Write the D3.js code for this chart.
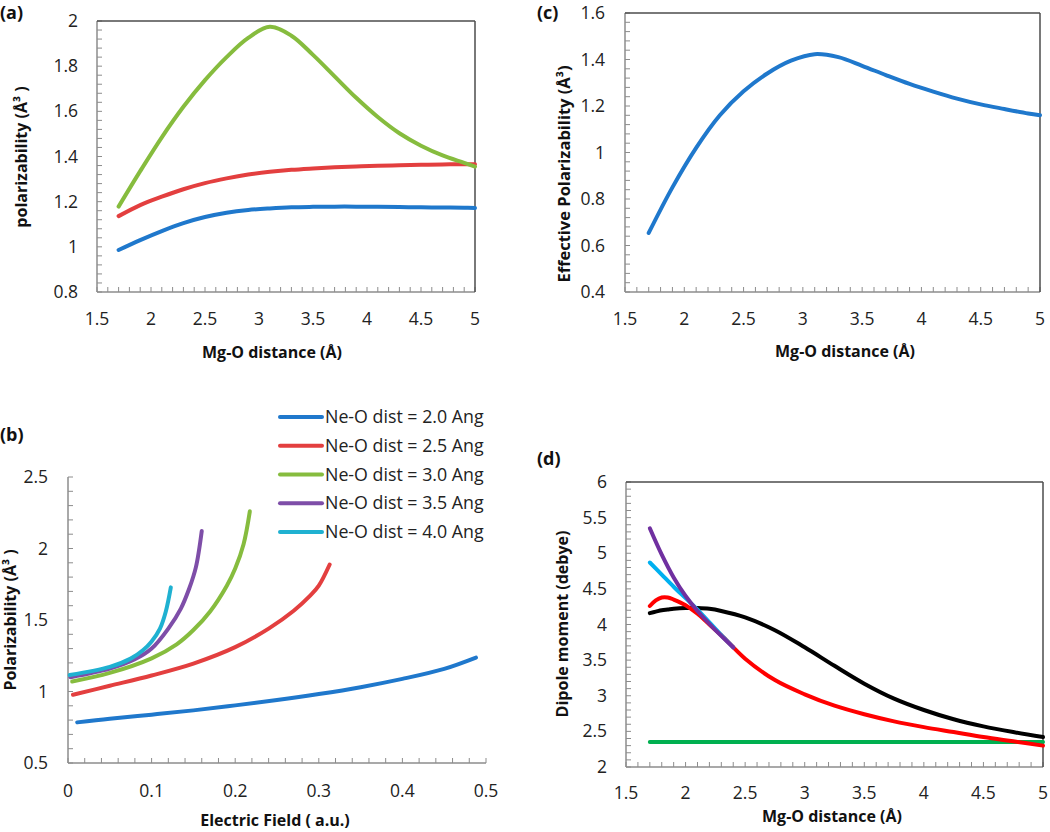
<!DOCTYPE html>
<html>
<head>
<meta charset="utf-8">
<script src="https://cdn.jsdelivr.net/npm/d3@7"></script>
<style>
  html, body { margin: 0; padding: 0; background: #fff; }
  svg { display: block; font-family: "Open Sans", "Noto Sans", sans-serif; }
</style>
</head>
<body>
<svg id="chart" width="1050" height="832"></svg>
<script>
// ---------- Panel (a): polarizability vs Mg-O distance ----------
const aX     = [1.7, 1.9, 2.1, 2.3, 2.5, 2.7, 2.9, 3.1, 3.3, 3.5, 3.7, 3.9, 4.1, 4.3, 4.5, 4.7, 4.9, 5.0];
const aGreen = [1.178, 1.335, 1.485, 1.62, 1.738, 1.84, 1.925, 1.974, 1.935, 1.85, 1.755, 1.66, 1.575, 1.503, 1.448, 1.405, 1.372, 1.355];
const aRed   = [1.136, 1.185, 1.222, 1.255, 1.282, 1.303, 1.32, 1.332, 1.341, 1.347, 1.352, 1.356, 1.359, 1.361, 1.363, 1.365, 1.366, 1.366];
const aBlue  = [0.986, 1.03, 1.07, 1.105, 1.132, 1.151, 1.163, 1.17, 1.175, 1.177, 1.178, 1.178, 1.177, 1.176, 1.175, 1.174, 1.173, 1.172];

// ---------- Panel (b): polarizability vs electric field ----------
const legendLabels = ["Ne-O dist = 2.0 Ang", "Ne-O dist = 2.5 Ang", "Ne-O dist = 3.0 Ang", "Ne-O dist = 3.5 Ang", "Ne-O dist = 4.0 Ang"];
const bX20 = [0.011, 0.05, 0.1, 0.15, 0.2, 0.25, 0.3, 0.35, 0.4, 0.45, 0.488];
const bY20 = [0.784, 0.81, 0.838, 0.868, 0.903, 0.94, 0.982, 1.03, 1.088, 1.158, 1.237];
const bX25 = [0.006, 0.05, 0.1, 0.15, 0.2, 0.24, 0.27, 0.29, 0.3, 0.313];
const bY25 = [0.977, 1.04, 1.112, 1.195, 1.31, 1.44, 1.565, 1.672, 1.74, 1.888];
const bX30 = [0.005, 0.05, 0.1, 0.13, 0.15, 0.17, 0.19, 0.2, 0.21, 0.2175];
const bY30 = [1.07, 1.13, 1.232, 1.33, 1.43, 1.56, 1.74, 1.86, 2.03, 2.26];
const bX35 = [0.003, 0.05, 0.08, 0.1, 0.12, 0.135, 0.145, 0.153, 0.16];
const bY35 = [1.10, 1.16, 1.225, 1.30, 1.44, 1.58, 1.72, 1.87, 2.123];
const bX40 = [0.002, 0.05, 0.075, 0.09, 0.1, 0.11, 0.117, 0.123];
const bY40 = [1.115, 1.172, 1.23, 1.29, 1.35, 1.44, 1.56, 1.728];

// ---------- Panel (c): effective polarizability ----------
const cX = [1.7, 1.9, 2.1, 2.3, 2.5, 2.7, 2.9, 3.1, 3.3, 3.5, 3.7, 3.9, 4.1, 4.3, 4.5, 4.7, 4.9, 5.0];
const cY = [0.654, 0.85, 1.02, 1.16, 1.263, 1.34, 1.395, 1.423, 1.41, 1.373, 1.333, 1.295, 1.262, 1.232, 1.207, 1.187, 1.168, 1.16];

// ---------- Panel (d): dipole moment ----------
const dX      = [1.7, 1.75, 1.8, 1.85, 1.9, 2.0, 2.1, 2.2, 2.3, 2.5, 2.75, 3.0, 3.25, 3.5, 3.75, 4.0, 4.25, 4.5, 4.75, 5.0];
const dBlack  = [4.16, 4.18, 4.20, 4.21, 4.22, 4.23, 4.23, 4.22, 4.19, 4.10, 3.92, 3.68, 3.42, 3.17, 2.96, 2.80, 2.67, 2.57, 2.49, 2.42];
const dRed    = [4.26, 4.34, 4.38, 4.38, 4.35, 4.27, 4.15, 4.00, 3.85, 3.52, 3.22, 3.02, 2.86, 2.74, 2.64, 2.56, 2.49, 2.42, 2.36, 2.30];
const dGreen  = [2.35, 2.35, 2.35, 2.35, 2.35, 2.35, 2.35, 2.35, 2.35, 2.35, 2.35, 2.35, 2.35, 2.35, 2.35, 2.35, 2.35, 2.35, 2.35, 2.35];
const dX2     = [1.7, 1.8, 1.9, 2.0, 2.1, 2.2, 2.3, 2.4];
const dCyan   = [4.87, 4.70, 4.53, 4.37, 4.21, 4.03, 3.85, 3.68];
const dPurple = [5.35, 4.98, 4.66, 4.40, 4.19, 4.01, 3.84, 3.68];

// tick labels
const distTicks = [1.5, 2, 2.5, 3, 3.5, 4, 4.5, 5];
const aYTicks = [0.8, 1, 1.2, 1.4, 1.6, 1.8, 2];
const cYTicks = [0.4, 0.6, 0.8, 1, 1.2, 1.4, 1.6];
const bXTicks = [0, 0.1, 0.2, 0.3, 0.4, 0.5];
const bYTicks = [0.5, 1, 1.5, 2, 2.5];
const dYTicks = [2, 2.5, 3, 3.5, 4, 4.5, 5, 5.5, 6];

const svg = d3.select("#chart");
const AXIS = "#8c8c8c", BORDER = "#4d4d4d";
const TICKFONT = 17.5, TITLEFONT = 16;

function range(a, b, step) {
  const out = []; const n = Math.round((b - a) / step);
  for (let i = 0; i <= n; i++) out.push(+(a + i * step).toFixed(6));
  return out;
}

function panel(o) {
  const x = d3.scaleLinear().domain(o.xDom).range([o.l, o.r]);
  const y = d3.scaleLinear().domain(o.yDom).range([o.b, o.t]);
  const g = svg.append("g");
  const ticks = g.append("g").attr("stroke", AXIS).attr("stroke-width", 1);
  range(o.xDom[0], o.xDom[1], o.xMinor).forEach(v => {
    ticks.append("line").attr("x1", x(v)).attr("x2", x(v)).attr("y1", o.b).attr("y2", o.b - 5);
  });
  range(o.yDom[0], o.yDom[1], o.yMinor).forEach(v => {
    ticks.append("line").attr("x1", o.l).attr("x2", o.l + 5).attr("y1", y(v)).attr("y2", y(v));
  });
  g.append("line").attr("x1", o.l).attr("x2", o.l).attr("y1", o.t).attr("y2", o.b).attr("stroke", AXIS).attr("stroke-width", 1.5);
  g.append("line").attr("x1", o.l).attr("x2", o.r).attr("y1", o.b).attr("y2", o.b).attr("stroke", AXIS).attr("stroke-width", 1.5);
  if (o.box) {
    g.append("line").attr("x1", o.l).attr("x2", o.r).attr("y1", o.t).attr("y2", o.t).attr("stroke", BORDER).attr("stroke-width", 1.5);
    g.append("line").attr("x1", o.r).attr("x2", o.r).attr("y1", o.t).attr("y2", o.b).attr("stroke", BORDER).attr("stroke-width", 1.5);
  }
  const fmt = d => String(d);
  g.append("g").selectAll("text").data(o.xTicks).join("text")
    .attr("x", d => x(d)).attr("y", o.b + o.xLabDy).attr("text-anchor", "middle")
    .attr("font-size", TICKFONT).attr("fill", "#222").text(fmt);
  g.append("g").selectAll("text").data(o.yTicks).join("text")
    .attr("x", o.l - o.yLabGap).attr("y", d => y(d) + 6).attr("text-anchor", "end")
    .attr("font-size", TICKFONT).attr("fill", "#222").text(fmt);
  g.append("text").attr("x", o.xTitleX).attr("y", o.xTitleY).attr("text-anchor", "middle")
    .attr("font-size", TITLEFONT).attr("font-weight", "bold").attr("fill", "#111").text(o.xTitle);
  g.append("text").attr("transform", `translate(${o.yTitleX},${o.yTitleY}) rotate(-90)`)
    .attr("text-anchor", "middle").attr("font-size", o.yTitleSize || TITLEFONT).attr("font-weight", "bold").attr("fill", "#111").text(o.yTitle);
  g.append("text").attr("x", o.tagX).attr("y", o.tagY).attr("font-size", 18).attr("font-weight", "bold").attr("fill", "#111").text(o.tag);
  const line = d3.line().x(d => x(d[0])).y(d => y(d[1])).curve(d3.curveCatmullRom.alpha(0.5));
  o.series.forEach(s => {
    g.append("path").datum(d3.zip(s.x, s.y)).attr("d", line)
      .attr("fill", "none").attr("stroke", s.color).attr("stroke-width", 4).attr("stroke-linecap", "round");
  });
  return {x, y, g};
}

// (a)
panel({
  l: 97, r: 475, t: 21, b: 292, xDom: [1.5, 5], yDom: [0.8, 2], xMinor: 0.1, yMinor: 0.04, box: true,
  xTicks: distTicks, yTicks: aYTicks, xLabDy: 33, yLabGap: 19,
  xTitle: "Mg-O distance (Å)", xTitleX: 272, xTitleY: 358,
  yTitle: "polarizability (Å³ )", yTitleX: 27, yTitleY: 157,
  tag: "(a)", tagX: 0, tagY: 19,
  series: [
    {x: aX, y: aBlue, color: "#1f78cc"},
    {x: aX, y: aRed, color: "#e33f3f"},
    {x: aX, y: aGreen, color: "#86bc3e"}
  ]
});

// (c)
panel({
  l: 625, r: 1040, t: 13, b: 292, xDom: [1.5, 5], yDom: [0.4, 1.6], xMinor: 0.1, yMinor: 0.04, box: true,
  xTicks: distTicks, yTicks: cYTicks, xLabDy: 33, yLabGap: 20,
  xTitle: "Mg-O distance (Å)", xTitleX: 845, xTitleY: 357,
  yTitle: "Effective Polarizability (Å³)", yTitleX: 570, yTitleY: 174, yTitleSize: 16.5,
  tag: "(c)", tagX: 537, tagY: 19,
  series: [ {x: cX, y: cY, color: "#1f78cc"} ]
});

// (b)
const bColors = ["#1f78cc", "#e33f3f", "#86bc3e", "#7e4ea8", "#1fb1d1"];
panel({
  l: 68, r: 486, t: 477, b: 763, xDom: [0, 0.5], yDom: [0.5, 2.5], xMinor: 0.02, yMinor: 0.1, box: false,
  xTicks: bXTicks, yTicks: bYTicks, xLabDy: 34, yLabGap: 20,
  xTitle: "Electric Field ( a.u.)", xTitleX: 275, xTitleY: 826,
  yTitle: "Polarizability (Å³ )", yTitleX: 16, yTitleY: 620,
  tag: "(b)", tagX: 0, tagY: 441,
  series: [
    {x: bX20, y: bY20, color: bColors[0]},
    {x: bX25, y: bY25, color: bColors[1]},
    {x: bX30, y: bY30, color: bColors[2]},
    {x: bX35, y: bY35, color: bColors[3]},
    {x: bX40, y: bY40, color: bColors[4]}
  ]
});
const legY = d3.scalePoint().domain(legendLabels).range([417, 532]);
const leg = svg.append("g").selectAll("g").data(legendLabels).join("g")
  .attr("transform", d => `translate(0,${legY(d)})`);
leg.append("line").attr("x1", 280).attr("x2", 322).attr("y1", 0).attr("y2", 0)
  .attr("stroke", (d, i) => bColors[i]).attr("stroke-width", 4).attr("stroke-linecap", "round");
leg.append("text").attr("x", 325).attr("y", 6).attr("font-size", 17.8).attr("fill", "#222").text(d => d);

// (d)
panel({
  l: 626, r: 1043, t: 482, b: 767, xDom: [1.5, 5], yDom: [2, 6], xMinor: 0.1, yMinor: 0.1, box: true,
  xTicks: distTicks, yTicks: dYTicks, xLabDy: 32, yLabGap: 19,
  xTitle: "Mg-O distance (Å)", xTitleX: 832, xTitleY: 822,
  yTitle: "Dipole moment (debye)", yTitleX: 568, yTitleY: 624,
  tag: "(d)", tagX: 537, tagY: 465,
  series: [
    {x: dX, y: dBlack, color: "#000000"},
    {x: dX, y: dGreen, color: "#00b050"},
    {x: dX, y: dRed, color: "#ff0000"},
    {x: dX2, y: dCyan, color: "#00b0f0"},
    {x: dX2, y: dPurple, color: "#7030a0"}
  ]
});
</script>
</body>
</html>
